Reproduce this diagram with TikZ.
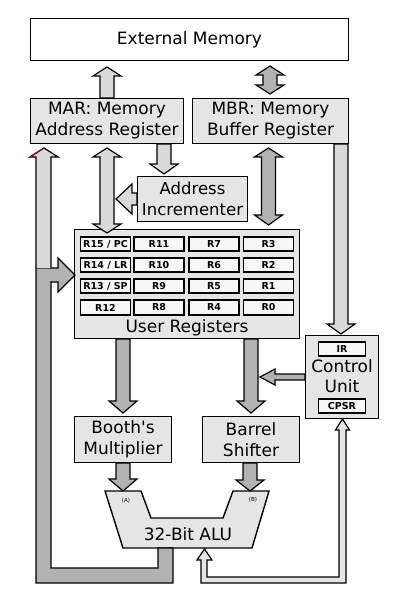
\documentclass[tikz,border=0pt]{standalone}
\usepackage{fontspec}
\setmainfont{DejaVu Sans}
\definecolor{boxgray}{gray}{0.9}
\definecolor{lightarr}{gray}{0.85}
\definecolor{darkarr}{gray}{0.7}
\definecolor{cellfill}{gray}{0.97}
\definecolor{redtint}{rgb}{0.6,0,0}
% vertical block arrow: fill, cx, ytail, yheadbase, ytip
\newcommand\myvarr[5]{\draw[blk, fill=#1] ({#2-7},#3) -- ({#2-7},#4) -- ({#2-14},#4) -- (#2,#5) -- ({#2+14},#4) -- ({#2+7},#4) -- ({#2+7},#3) -- cycle;}
% vertical double block arrow: fill, cx, ytip1, ybase1, ybase2, ytip2
\newcommand\mydvarr[6]{\draw[blk, fill=#1] (#2,#3) -- ({#2+14},#4) -- ({#2+7},#4) -- ({#2+7},#5) -- ({#2+14},#5) -- (#2,#6) -- ({#2-14},#5) -- ({#2-7},#5) -- ({#2-7},#4) -- ({#2-14},#4) -- cycle;}
% horizontal block arrow: fill, cy, xtail, xbase, xtip, shaft half width, head half width
\newcommand\myharr[7]{\draw[blk, fill=#1] (#3,{#2-#6}) -- (#4,{#2-#6}) -- (#4,{#2-#7}) -- (#5,#2) -- (#4,{#2+#7}) -- (#4,{#2+#6}) -- (#3,{#2+#6}) -- cycle;}
\begin{document}
\begin{tikzpicture}[x=1pt,y=-1pt,
  box/.style={draw=black, line width=1.4pt, fill=boxgray, align=center, inner sep=0pt, font=\fontsize{17}{21}\selectfont},
  cell/.style={draw=black, line width=1.8pt, fill=cellfill, minimum width=50pt, minimum height=14.5pt, inner sep=0pt, font=\fontsize{9.5}{11}\selectfont\bfseries},
  txt/.style={inner sep=0pt, font=\fontsize{17}{21}\selectfont},
  blk/.style={draw=black, line width=1.2pt, line join=miter}]
\useasboundingbox (0,0) rectangle (406,601);

% boxes
\node[box, fill=white, minimum width=318pt, minimum height=42pt] (ext) at (189.5,39.5) {External Memory};
\node[box, minimum width=153pt, minimum height=45pt] (mar) at (107,121) {MAR: Memory\\Address Register};
\node[box, minimum width=156pt, minimum height=45pt] (mbr) at (270.5,121) {MBR: Memory\\Buffer Register};
\node[box, minimum width=110pt, minimum height=45pt, font=\fontsize{16.5}{21}\selectfont] (addr) at (192.5,199) {Address\\Incrementer};
\node[box, minimum width=225pt, minimum height=109pt] (ureg) at (187,284) {};
\node[txt] (ureglabel) at (187,328) {User Registers};

% register cells
\node[cell] (r15) at (105.5,244) {R15 / PC};
\node[cell] (r11) at (159,244) {R11};
\node[cell] (r7)  at (214,244) {R7};
\node[cell] (r3)  at (268.5,244) {R3};
\node[cell] (r14) at (105.5,265) {R14 / LR};
\node[cell] (r10) at (159,265) {R10};
\node[cell] (r6)  at (214,265) {R6};
\node[cell] (r2)  at (268.5,265) {R2};
\node[cell] (r13) at (105.5,286) {R13 / SP};
\node[cell] (r9)  at (159,286) {R9};
\node[cell] (r5)  at (214,286) {R5};
\node[cell] (r1)  at (268.5,286) {R1};
\node[cell] (r12) at (105.5,307.5) {R12};
\node[cell] (r8)  at (159,307.5) {R8};
\node[cell] (r4)  at (214,307.5) {R4};
\node[cell] (r0)  at (268.5,307.5) {R0};

% control unit
\node[box, minimum width=73pt, minimum height=83pt] (cu) at (342,377) {};
\node[txt] (cutext) at (342,378.5) {\begin{tabular}{@{}c@{}}Control\\[-1pt]Unit\end{tabular}};
\node[cell, minimum width=47pt] (ir) at (342,349) {IR};
\node[cell, minimum width=47pt] (cpsr) at (342,406) {CPSR};

% booth, barrel
\node[box, minimum width=97pt, minimum height=46pt] (booth) at (123,439.5) {Booth\textquotesingle s\\Multiplier};
\node[box, minimum width=97pt, minimum height=46pt] (barrel) at (251,439.5) {Barrel\\Shifter};

% ALU
\draw[line width=1.4pt, fill=boxgray, line join=miter] (105,491) -- (141,491) -- (151,518) -- (223,518) -- (233,491) -- (269,491) -- (252,548) -- (123,548) -- cycle;
\node[txt] (alu) at (188,534) {32-Bit ALU};
\node[inner sep=0pt, font=\fontsize{5.5}{6}\selectfont] (ina) at (126,501) {(A)};
\node[inner sep=0pt, font=\fontsize{5.5}{6}\selectfont] (inb) at (253,500) {(B)};

% arrows
\myvarr{lightarr}{107}{98}{76}{67}
\mydvarr{darkarr}{270}{66}{75}{85}{94}
\mydvarr{lightarr}{107}{148}{157}{224}{233}
\mydvarr{darkarr}{268.5}{148}{157}{215}{225}
\myvarr{lightarr}{164}{144}{164}{174}
\myharr{lightarr}{199}{137}{132}{116}{6}{15}
\myvarr{lightarr}{341}{144}{324}{334}
\myvarr{darkarr}{123}{339}{401}{413}
\myvarr{darkarr}{251}{339}{401}{413}
\myharr{darkarr}{377}{305}{275}{260}{3}{8}
\myvarr{darkarr}{123}{463}{479}{491}
\myvarr{darkarr}{250}{463}{480}{491}

% ALU result loop (dark) with branch into user registers
\draw[blk, fill=darkarr] (158,548) -- (158,568) -- (51,568) -- (51,282) -- (58,282) -- (58,292) -- (75,275) -- (58,258) -- (58,268) -- (36,268) -- (36,583) -- (173,583) -- (173,548) -- cycle;
% light arrow up to MAR
\draw[blk, fill=lightarr] (36,268) -- (36,157) -- (30,157) -- (44,148) -- (58,157) -- (51,157) -- (51,268);
\draw[redtint, line width=0.9pt] (36,157) -- (30,157) -- (44,148);

% CPSR feedback (thin hollow arrow)
\draw[line width=1.2pt, fill=boxgray, line join=miter] (207,560) -- (212,560) -- (204.5,549) -- (197,560) -- (201,560) -- (201,583) -- (346,583) -- (346,430) -- (349.5,430) -- (342.5,419) -- (335.5,430) -- (339,430) -- (339,577) -- (207,577) -- cycle;
\end{tikzpicture}
\end{document}
